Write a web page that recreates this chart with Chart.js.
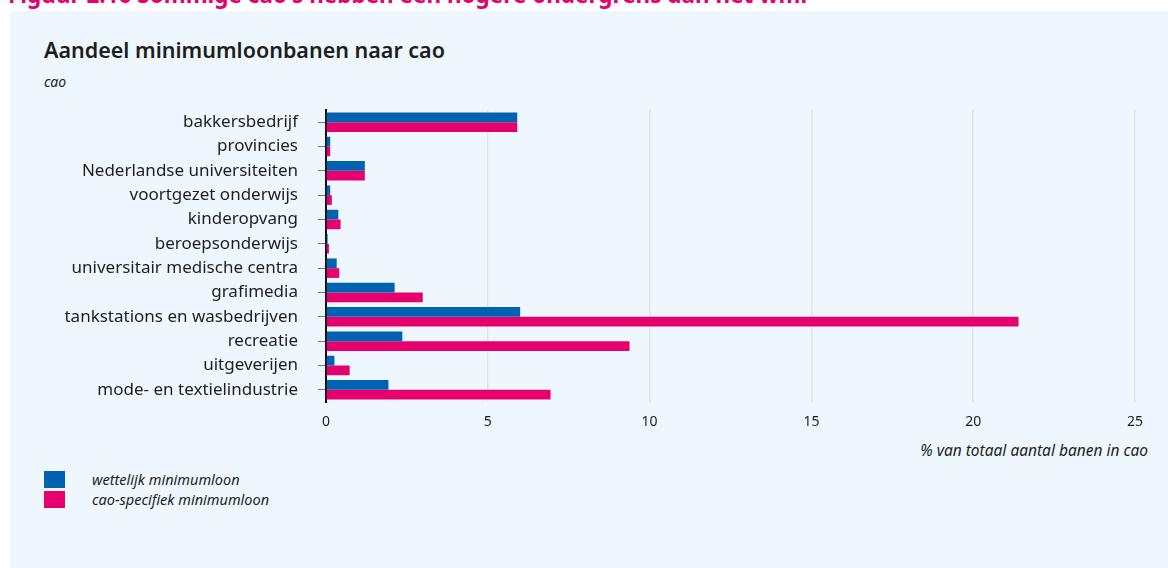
<!DOCTYPE html>
<html>
<head>
<meta charset="utf-8">
<script src="https://cdn.jsdelivr.net/npm/chart.js@4.4.1/dist/chart.umd.min.js"></script>
<style>
	html, body { margin: 0; padding: 0; background: #fff; }
	body { width: 1168px; height: 568px; position: relative; overflow: hidden; font-family: 'Noto Sans', sans-serif; color: #1e1e1e; }
	.fig-title { position: absolute; left: 8px; top: -20px; font-size: 22.5px; line-height: 30px; font-weight: bold; color: #e5006d; white-space: nowrap; }
	.panel { position: absolute; left: 10px; top: 11px; width: 1158px; height: 557px; background: #eef7fd; }
	.title { position: absolute; left: 44px; top: 35px; font-size: 21.5px; font-weight: 600; white-space: nowrap; }
	.subtitle { position: absolute; left: 44px; top: 72px; font-size: 14px; font-style: italic; }
	.xtitle { position: absolute; right: 20px; top: 439px; font-size: 15.5px; font-style: italic; white-space: nowrap; }
	.legend { position: absolute; left: 44px; top: 469px; font-size: 14.5px; font-style: italic; }
	.legend div { height: 20px; line-height: 18px; display: flex; align-items: center; }
	.legend span { display: inline-block; width: 21px; height: 17px; margin-right: 27px; }
	#chart-wrap { position: absolute; left: 0; top: 0; width: 1168px; height: 568px; }
</style>
</head>
<body>
<div class="fig-title">Figuur 2.16 Sommige cao's hebben een hogere ondergrens dan het wml</div>
<div class="panel"></div>
<div class="title">Aandeel minimumloonbanen naar cao</div>
<div class="subtitle">cao</div>
<div class="xtitle">% van totaal aantal banen in cao</div>
<div class="legend">
	<div><span style="background:#0062b0"></span>wettelijk minimumloon</div>
	<div><span style="background:#e5006d"></span>cao-specifiek minimumloon</div>
</div>
<div id="chart-wrap"><canvas id="chart"></canvas></div>
<script>
const categories = [
	'bakkersbedrijf',
	'provincies',
	'Nederlandse universiteiten',
	'voortgezet onderwijs',
	'kinderopvang',
	'beroepsonderwijs',
	'universitair medische centra',
	'grafimedia',
	'tankstations en wasbedrijven',
	'recreatie',
	'uitgeverijen',
	'mode- en textielindustrie'
];
const wettelijk = [5.91, 0.13, 1.2, 0.13, 0.38, 0.05, 0.33, 2.12, 6.0, 2.36, 0.26, 1.93];
const caoSpecifiek = [5.91, 0.13, 1.2, 0.18, 0.45, 0.09, 0.41, 2.99, 21.4, 9.38, 0.73, 6.94];
const xTicks = [0, 5, 10, 15, 20, 25];

Chart.defaults.font.family = "'Noto Sans', sans-serif";
Chart.defaults.color = '#1e1e1e';

new Chart(document.getElementById('chart').getContext('2d'), {
	type: 'bar',
	data: {
		labels: categories,
		datasets: [
			{
				label: 'wettelijk minimumloon',
				data: wettelijk,
				backgroundColor: '#0062b0',
				categoryPercentage: 0.8,
				barPercentage: 1
			},
			{
				label: 'cao-specifiek minimumloon',
				data: caoSpecifiek,
				backgroundColor: '#e5006d',
				categoryPercentage: 0.8,
				barPercentage: 1
			}
		]
	},
	options: {
		indexAxis: 'y',
		responsive: true,
		maintainAspectRatio: false,
		animation: false,
		layout: { padding: { left: 0, right: 33, top: 110, bottom: 126 } },
		plugins: {
			legend: { display: false },
			tooltip: { enabled: false }
		},
		scales: {
			x: {
				min: 0,
				max: 25,
				afterBuildTicks(scale) {
					scale.ticks = xTicks.map((v) => ({ value: v }));
				},
				afterFit(scale) { scale.height = 40; },
				border: { display: false },
				grid: {
					drawTicks: false,
					color: (ctx) => (ctx.tick && ctx.tick.value === 0 ? 'rgba(0,0,0,0)' : '#dde3ea'),
					lineWidth: 1.5
				},
				ticks: { padding: 12, font: { size: 14 } }
			},
			y: {
				afterFit(scale) { scale.width = 326; },
				border: { display: true, color: '#111', width: 2 },
				grid: {
					offset: false,
					drawOnChartArea: false,
					drawTicks: true,
					tickLength: 8,
					color: '#777'
				},
				ticks: { padding: 20, font: { size: 17 } }
			}
		}
	}
});
</script>
</body>
</html>
